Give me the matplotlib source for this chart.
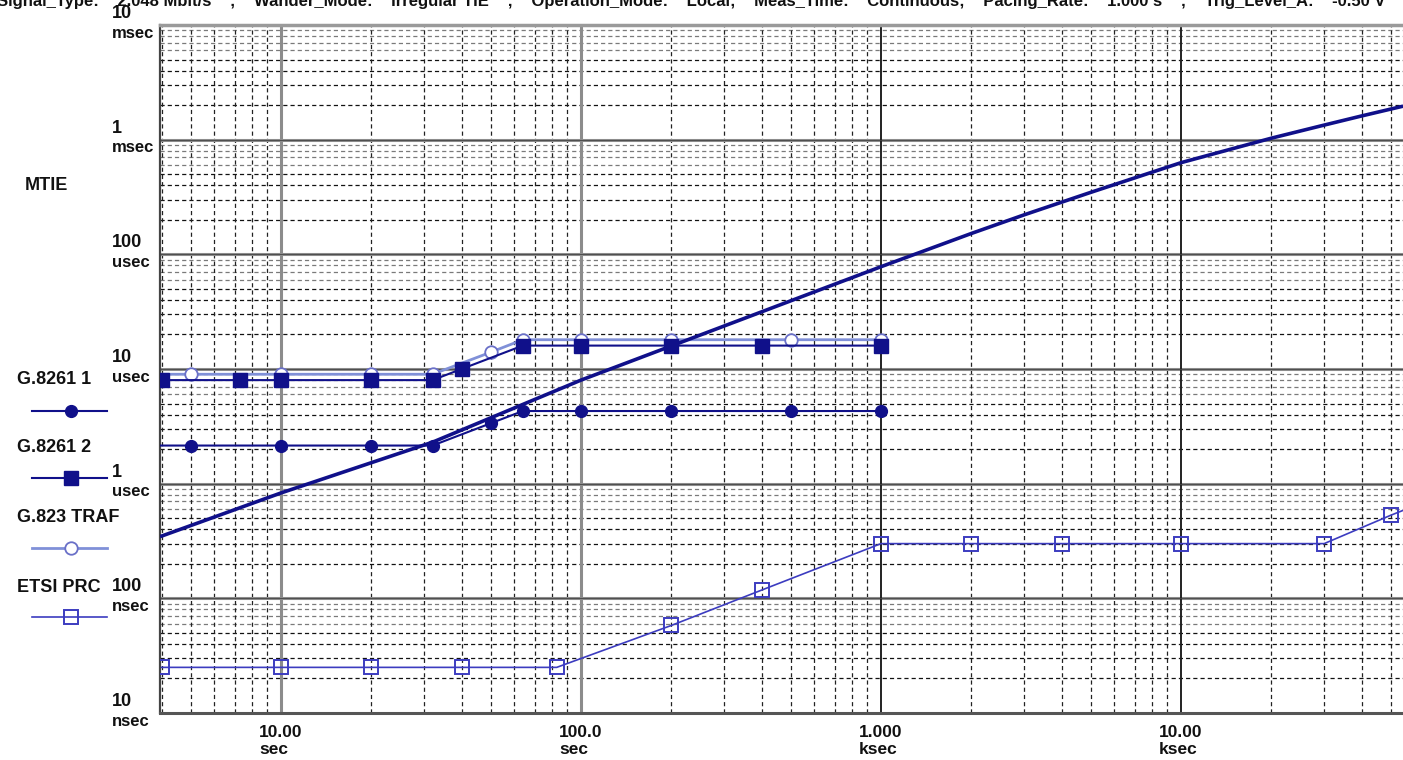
import matplotlib
matplotlib.use("Agg")
import matplotlib.pyplot as plt
from matplotlib.lines import Line2D
from matplotlib.transforms import blended_transform_factory, ScaledTranslation
import numpy as np

plt.rcParams['font.family'] = ['Liberation Sans', 'DejaVu Sans']
plt.rcParams['lines.scale_dashes'] = False

# ---------------- data ----------------
mtie_tau = [3.95, 10, 32, 100, 1000, 2000, 3000, 5000, 10000, 15000, 20000, 30000, 40000, 55000]
mtie_val = [3.45e-7, 8.3e-7, 2.3e-6, 8.0e-6, 7.8e-5, 1.52e-4, 2.21e-4, 3.47e-4, 6.3e-4, 8.4e-4,
            1.03e-3, 1.34e-3, 1.61e-3, 1.96e-3]

g8261_1_tau = [1, 5, 10, 20, 32, 50, 64, 100, 200, 500, 1000]
g8261_1_val = [2.15e-6, 2.15e-6, 2.15e-6, 2.15e-6, 2.15e-6, 3.36e-6, 4.3e-6, 4.3e-6, 4.3e-6, 4.3e-6, 4.3e-6]

g8261_2_tau = [4, 7.3, 10, 20, 32, 40, 64, 100, 200, 400, 1000]
g8261_2_val = [8e-6, 8e-6, 8e-6, 8e-6, 8e-6, 10e-6, 16e-6, 16e-6, 16e-6, 16e-6, 16e-6]

g823_tau = [1, 5, 10, 20, 32, 50, 64, 100, 200, 500, 1000]
g823_val = [9e-6, 9e-6, 9e-6, 9e-6, 9e-6, 14e-6, 18e-6, 18e-6, 18e-6, 18e-6, 18e-6]

etsi_tau = [4, 10, 20, 40, 83, 200, 400, 1000, 2000, 4000, 10000, 30000, 50000, 60000]
etsi_val = [25e-9, 25e-9, 25e-9, 25e-9, 25e-9, 58e-9, 118e-9, 300e-9, 300e-9, 300e-9, 300e-9,
            300e-9, 530e-9, 640e-9]

ytick_vals = [1e-2, 1e-3, 1e-4, 1e-5, 1e-6, 1e-7, 1e-8]
ytick_nums = ["10", "1", "100", "10", "1", "100", "10"]
ytick_units = ["msec", "msec", "usec", "usec", "usec", "nsec", "nsec"]

xtick_vals = [10, 100, 1000, 10000]
xtick_nums = ["10.00", "100.0", "1.000", "10.00"]
xtick_units = ["sec", "sec", "ksec", "ksec"]

legend_labels = ["G.8261 1", "G.8261 2", "G.823 TRAF", "ETSI PRC"]
title_text = ("Signal_Type:    2.048 Mbit/s    ;    Wander_Mode:    Irregular TIE    ;    "
              "Operation_Mode:    Local;    Meas_Time:    Continuous;    Pacing_Rate:    "
              "1.000 s    ;    Trig_Level_A:    -0.50 V")

# ---------------- figure ----------------
W, H = 1403, 760
fig = plt.figure(figsize=(W / 100, H / 100), dpi=100)
fig.patch.set_facecolor('white')

def fx(x):
    return x / W

def fy(y):
    return 1 - y / H

ax = fig.add_axes([fx(160), fy(713), (1403 - 160) / W, (713 - 25) / H])
ax.set_xscale('log')
ax.set_yscale('log')
ax.set_xlim(10 ** 0.5967, 10 ** 4.74)
ax.set_ylim(1e-8, 1e-2)
ax.set_facecolor('white')

# grid
dash = (0, (3.0, 2.2))
for dec in range(-8, -2):
    for m in range(2, 10):
        v = m * 10.0 ** dec
        col = '#111111' if m <= 5 else '#7a7a7a'
        ax.axhline(v, color=col, lw=0.9, ls=dash, zorder=1)
for dec in range(0, 5):
    for m in range(2, 10):
        v = m * 10.0 ** dec
        ax.axvline(v, color='#222222', lw=0.9, ls=dash, zorder=1)
for v in ytick_vals[1:-1]:
    ax.axhline(v, color='#8c8c8c', lw=2.2, zorder=1.5)
    ax.axhline(v, color='#444444', lw=0.6, zorder=1.6)
for v in xtick_vals:
    if v < 1000:
        ax.axvline(v, color='#8c8c8c', lw=2.2, zorder=1.5)
    else:
        ax.axvline(v, color='#222222', lw=1.4, zorder=1.5)

ax.tick_params(which='both', length=0, labelleft=False, labelbottom=False)
ax.spines['right'].set_visible(False)
ax.spines['top'].set_color('#9a9a9a')
ax.spines['top'].set_linewidth(2.5)
ax.spines['left'].set_color('#444444')
ax.spines['left'].set_linewidth(1.6)
ax.spines['bottom'].set_color('#555555')
ax.spines['bottom'].set_linewidth(2.2)

navy = '#10108a'
c823 = '#8090d8'
cetsi = '#3c3cc0'

# series
ax.plot(etsi_tau, etsi_val, color=cetsi, lw=1.2, marker='s', ms=9.5, mfc='none',
        mec=cetsi, mew=1.4, zorder=3)
ax.plot(g823_tau, g823_val, color=c823, lw=2.0, marker='o', ms=9, mfc='white',
        mec='#6a70c8', mew=1.3, zorder=3)
ax.plot(g8261_2_tau, g8261_2_val, color=navy, lw=1.5, marker='s', ms=10, mfc=navy,
        mec=navy, zorder=4)
ax.plot(g8261_1_tau, g8261_1_val, color=navy, lw=1.5, marker='o', ms=8.5, mfc=navy,
        mec=navy, zorder=4)
ax.plot(mtie_tau, mtie_val, color=navy, lw=2.6, zorder=5, solid_capstyle='butt',
        solid_joinstyle='round')

# y tick labels
ytr = blended_transform_factory(fig.transFigure, ax.transData)
for v, n, u in zip(ytick_vals, ytick_nums, ytick_units):
    fig.text(fx(112), v, n, transform=ytr + ScaledTranslation(0, 11.5 / 100, fig.dpi_scale_trans),
             ha='left', va='center', fontsize=13, fontweight='bold', color='#111111')
    fig.text(fx(112), v, u, transform=ytr + ScaledTranslation(0, -8 / 100, fig.dpi_scale_trans),
             ha='left', va='center', fontsize=12, fontweight='bold', color='#111111')

# x tick labels
xtr = blended_transform_factory(ax.transData, fig.transFigure)
for v, n, u in zip(xtick_vals, xtick_nums, xtick_units):
    fig.text(v, fy(741), n + "\n" + u, transform=xtr, ha='center', va='center',
             multialignment='left', fontsize=12.5, fontweight='bold', color='#111111',
             linespacing=1.2)

# side labels
fig.text(fx(25), fy(185), "MTIE", ha='left', va='center', fontsize=13, fontweight='bold',
         color='#111111')

# legend
leg_text_y = [380, 447, 517, 587]
leg_line_y = [411, 478, 548, 617]
leg_styles = [
    dict(color=navy, lw=1.5, marker='o', ms=8.5, mfc=navy, mec=navy),
    dict(color=navy, lw=1.5, marker='s', ms=10, mfc=navy, mec=navy),
    dict(color=c823, lw=2.0, marker='o', ms=9, mfc='white', mec='#6a70c8', mew=1.3),
    dict(color=cetsi, lw=1.2, marker='s', ms=9.5, mfc='none', mec=cetsi, mew=1.4),
]
for lab, ty, ly, st in zip(legend_labels, leg_text_y, leg_line_y, leg_styles):
    fig.text(fx(17), fy(ty), lab, ha='left', va='center', fontsize=13, fontweight='bold',
             color='#111111')
    fig.add_artist(Line2D([fx(32), fx(107)], [fy(ly), fy(ly)], transform=fig.transFigure,
                          markevery=[], **st))
    fig.add_artist(Line2D([fx(70.5)], [fy(ly)], transform=fig.transFigure,
                          linestyle='none', **{k: v for k, v in st.items() if k not in ('lw', 'color')}))

# clipped header line at the very top
fig.text(fx(-3), fy(6), title_text, ha='left', va='baseline', fontsize=12, fontweight='bold',
         color='#111111')

fig.savefig('out.png', dpi=100, facecolor='white')
